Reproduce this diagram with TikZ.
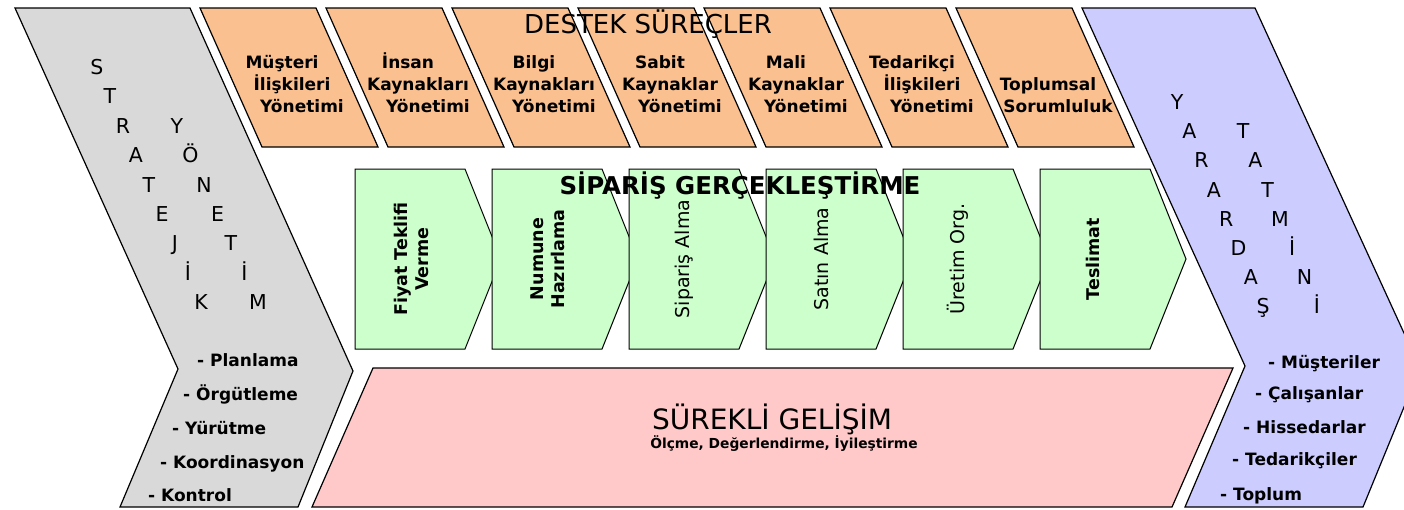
\documentclass[tikz,border=0pt]{standalone}
\usepackage{fontspec}
\setmainfont{DejaVu Sans}
\definecolor{grayfill}{HTML}{D9D9D9}
\definecolor{orangefill}{HTML}{FAC090}
\definecolor{greenfill}{HTML}{CCFFCC}
\definecolor{pinkfill}{HTML}{FFC9C9}
\definecolor{bluefill}{HTML}{CCCCFF}
\tikzset{
  outline/.style={draw=black,line width=1.2pt},
  lettr/.style={inner sep=0pt,text height=15pt,text depth=0pt,
    font=\fontsize{20.5}{20}\selectfont},
  listitem/.style={anchor=west,inner sep=0pt,text height=12pt,text depth=0pt,
    font=\bfseries\fontsize{17}{17}\selectfont},
  boxtext/.style={inner sep=0pt,text height=12pt,text depth=0pt,
    font=\bfseries\fontsize{17}{17}\selectfont},
  flowtext/.style={rotate=90,align=center,inner sep=0pt,
    font=\bfseries\fontsize{17.5}{21}\selectfont},
}

\begin{document}
\begin{tikzpicture}[x=1pt,y=-1pt]
    \useasboundingbox (0,0) rectangle (1404,509);
    \fill[white] (0,0) rectangle (1404,509);
    \clip (0,0) rectangle (1404,509);
    % chevrons on both sides
    \filldraw[outline,fill=grayfill] (15,8) -- (190,8) -- (353,371) -- (298,507)
      -- (120,507) -- (178,369) -- cycle;
    \filldraw[outline,fill=bluefill] (1082,8) -- (1255,8) -- (1420,368) -- (1363,507)
      -- (1185,507) -- (1245,366) -- cycle;
    % support processes
    \foreach \i in {0,...,6}
      \filldraw[outline,fill=orangefill] ({200+126*\i},8) -- ++(116,0) -- ++(62,139)
        -- ++(-116,0) -- cycle;
    \foreach \a/\b/\c [count=\i from 0] in {Müşteri/İlişkileri/Yönetimi,
        İnsan/Kaynakları/Yönetimi, Bilgi/Kaynakları/Yönetimi,
        Sabit/Kaynaklar/Yönetimi, Mali/Kaynaklar/Yönetimi,
        Tedarikçi/İlişkileri/Yönetimi, /Toplumsal/Sorumluluk} {
      \node[boxtext] (ust\i) at ({282+126*\i},62) {\a};
      \node[boxtext] (orta\i) at ({292+126*\i},84) {\b};
      \node[boxtext] (alt\i) at ({302+126*\i},106) {\c};
    }
    \node[font=\fontsize{26}{26}\selectfont] (destek) at (648,24) {DESTEK SÜREÇLER};
    % order fulfilment
    \foreach \i in {0,...,5}
      \filldraw[draw=black,line width=1pt,fill=greenfill] ({355+137*\i},169)
        -- ++(110,0) -- ++(36,90) -- ++(-36,90) -- ++(-110,0) -- cycle;
    \node[flowtext] (fiyat) at (411,259) {Fiyat Teklifi\\Verme};
    \node[flowtext] (numune) at (548,259) {Numune\\Hazırlama};
    \node[flowtext,font=\fontsize{19}{21}\selectfont] (alma) at (684,259) {Sipariş Alma};
    \node[flowtext,font=\fontsize{19}{21}\selectfont] (satin) at (821,259) {Satın Alma};
    \node[flowtext,font=\fontsize{19}{21}\selectfont] (uretim) at (958,259) {Üretim Org.};
    \node[flowtext] (teslim) at (1093,259) {Teslimat};
    \node[font=\bfseries\fontsize{24.5}{24}\selectfont] (siparis) at (740,186)
      {SİPARİŞ GERÇEKLEŞTİRME};
    % continuous improvement
    \filldraw[outline,fill=pinkfill] (373,368) -- (1233,368) -- (1172,507)
      -- (312,507) -- cycle;
    \node[font=\fontsize{28}{28}\selectfont] (surekli) at (772,419) {SÜREKLİ GELİŞİM};
    \node[font=\bfseries\fontsize{13.8}{14}\selectfont] (olcme) at (784,444)
      {Ölçme, Değerlendirme, İyileştirme};
    % letters
    \foreach \c [count=\i from 0] in {S,T,R,A,T,E,J,İ,K}
      \node[lettr] (strat\i) at ({97+13*\i},{67+29.4*\i}) {\c};
    \foreach \c [count=\i from 2] in {Y,Ö,N,E,T,İ,M}
      \node[lettr] (yon\i) at ({177+13.5*(\i-2)},{67+29.4*\i}) {\c};
    \foreach \c [count=\i from 0] in {Y,A,R,A,R,D,A,Ş}
      \node[lettr] (yar\i) at ({1177+12.3*\i},{102+29.2*\i}) {\c};
    \foreach \c [count=\i from 1] in {T,A,T,M,İ,N,İ}
      \node[lettr] (tat\i) at ({1243+12.3*(\i-1)},{102+29.2*\i}) {\c};
    % lists
    \foreach \t/\x/\y [count=\i] in {Planlama/197/360, Örgütleme/183/394,
        Yürütme/172/428, Koordinasyon/160/462, Kontrol/148/495}
      \node[listitem] (sol\i) at (\x,\y) {- \t};
    \foreach \t/\x/\y [count=\i] in {Müşteriler/1268/362, Çalışanlar/1255/393,
        Hissedarlar/1243/427, Tedarikçiler/1232/459, Toplum/1220/494}
      \node[listitem] (sag\i) at (\x,\y) {- \t};
\end{tikzpicture}
\end{document}
